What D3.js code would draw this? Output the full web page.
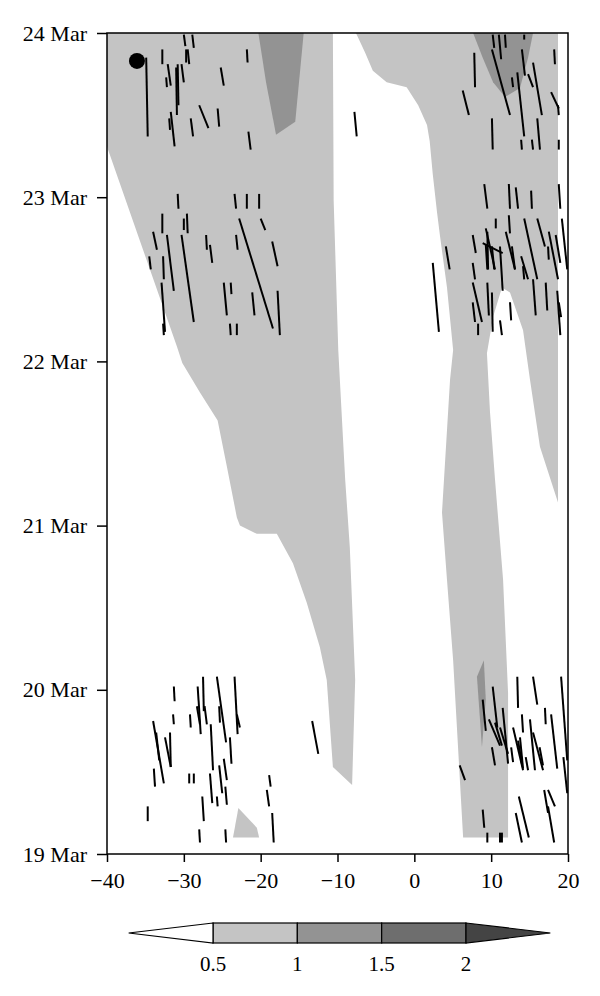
<!DOCTYPE html>
<html>
<head>
<meta charset="utf-8">
<script src="https://cdn.jsdelivr.net/npm/d3@7"></script>
<style>
  body { margin: 0; background: #fff; }
  text { font-family: "Liberation Serif", "DejaVu Serif", serif; }
</style>
</head>
<body>
<script>
// axis ticks
var lonTicks = [-40, -30, -20, -10, 0, 10, 20];
var dayTicks = [19, 20, 21, 22, 23, 24];

// contour levels and fill greys (below 0.5, 0.5-1, 1-1.5, 1.5-2, above 2)
var levels = [0.5, 1, 1.5, 2];
var levelColors = ["#ffffff", "#c4c4c4", "#939393", "#6e6e6e", "#444444"];

// contour regions, [lon, day of March]
var westBand = [[-40,24],[-10.6,24],[-10.5,22.98],[-9.9,22.07],[-9.0,21.28],[-8.4,20.87],[-7.7,20.06],
  [-8.1,19.42],[-10.6,19.53],[-11.4,20.06],[-12.3,20.26],[-14.0,20.53],[-15.8,20.77],[-17.9,20.95],
  [-20.5,20.95],[-22.7,21.0],[-23.1,21.05],[-24.4,21.36],[-25.6,21.64],[-27.9,21.81],[-30.2,21.99],
  [-30.9,22.09],[-39.87,23.29],[-40,23.31]];
var eastBand = [[-7.6,24],[18.7,24],[18.7,21.14],[16.35,21.48],[15.05,21.89],[14.15,22.19],[12.45,22.42],
  [11.4,22.45],[10.25,22.27],[9.45,22.05],[9.85,21.69],[10.5,21.28],[11.55,20.67],[12.2,19.98],[12.2,19.10],
  [6.35,19.10],[5.05,20.18],[4.25,20.67],[3.6,21.08],[4.25,21.58],[4.65,21.89],[5.05,22.07],[4.25,22.45],
  [3.35,22.76],[2.95,22.91],[2.4,23.14],[2.0,23.34],[1.65,23.44],[0.5,23.56],[-1.0,23.67],[-3.6,23.70],
  [-5.4,23.77],[-6.4,23.88]];
var smallPatch = [[-22.9,19.28],[-20.5,19.16],[-20.2,19.10],[-23.6,19.10]];
var darkWest = [[-20.3,24],[-14.4,24],[-15.5,23.46],[-18.0,23.38],[-19.3,23.7]];
var darkEast = [[7.65,24],[15.45,24],[14.8,23.85],[13.75,23.665],[11.8,23.61],[10.25,23.70],[8.9,23.85]];
var darkSouth = [[9.05,20.18],[8.15,20.08],[8.8,19.65],[9.3,19.94]];

var regions = [
  {pts: westBand, level: 1}, {pts: eastBand, level: 1}, {pts: smallPatch, level: 1},
  {pts: darkWest, level: 2}, {pts: darkEast, level: 2}, {pts: darkSouth, level: 2}
];

// sticks: [lon1, day1, lon2, day2]
var sticks = [
  [-34.9,23.85,-34.7,23.37],[-30.0,23.99,-29.8,23.92],[-28.9,23.99,-28.7,23.91],[-32.8,23.90,-32.8,23.81],
  [-29.7,23.90,-29.7,23.82],[-29.5,23.90,-29.3,23.81],[-32.1,23.81,-31.7,23.68],[-32.3,23.73,-32.2,23.67],
  [-31.0,23.79,-30.9,23.50],[-30.8,23.81,-30.7,23.56],[-30.3,23.81,-30.0,23.70],[-31.7,23.52,-31.2,23.31],
  [-31.9,23.48,-31.8,23.41],[-29.1,23.48,-28.8,23.37],[-28.0,23.56,-26.8,23.42],[-25.6,23.54,-25.4,23.43],
  [-25.2,23.79,-24.8,23.68],[-21.8,23.90,-21.7,23.82],[-21.6,23.40,-21.3,23.29],
  [-30.8,23.02,-30.7,22.93],[-23.4,23.02,-23.2,22.93],[-21.8,23.02,-21.8,22.93],[-20.2,23.02,-20.2,22.93],
  [-32.8,22.90,-32.8,22.78],[-30.0,22.87,-30.0,22.80],[-29.6,22.90,-29.5,22.78],[-34.0,22.79,-33.5,22.68],
  [-32.2,22.77,-31.3,22.43],[-30.3,22.77,-28.7,22.24],[-27.1,22.77,-27.0,22.68],[-26.6,22.71,-26.3,22.60],
  [-23.2,22.77,-23.0,22.68],[-22.8,22.87,-18.4,22.20],[-20.0,22.87,-19.4,22.80],[-18.5,22.73,-17.8,22.58],
  [-17.8,22.43,-17.5,22.16],[-21.1,22.42,-20.8,22.28],[-24.8,22.48,-24.4,22.28],[-23.9,22.48,-23.8,22.41],
  [-24.0,22.23,-23.9,22.16],[-23.1,22.23,-23.1,22.16],[-34.5,22.64,-34.3,22.56],[-32.7,22.64,-32.6,22.50],
  [-32.9,22.48,-32.45,22.18],[-32.7,22.23,-32.6,22.16],
  [10.2,23.99,10.4,23.91],[11.0,23.99,11.3,23.84],[11.8,23.99,11.9,23.91],[14.3,23.99,14.3,23.96],
  [7.8,23.88,7.9,23.67],[10.1,23.90,12.45,23.50],[12.7,23.73,12.85,23.67],[13.4,23.76,14.3,23.37],
  [14.0,23.90,14.4,23.74],[15.45,23.82,16.6,23.50],[14.8,23.75,15.45,23.67],[16.0,23.48,16.35,23.29],
  [18.2,23.90,18.3,23.81],[17.8,23.64,18.8,23.54],[18.7,23.56,18.8,23.50],[6.3,23.65,7.1,23.50],
  [10.1,23.48,10.2,23.29],[13.9,23.35,14.0,23.29],[15.3,23.35,15.45,23.29],[18.8,23.35,18.8,23.29],
  [-7.8,23.52,-7.5,23.37],
  [9.1,23.08,9.5,22.93],[12.3,23.08,12.45,22.93],[13.2,23.06,13.5,22.93],[15.2,23.04,15.3,22.93],
  [18.8,23.08,19.0,22.93],[10.6,22.87,10.6,22.81],[12.3,22.89,12.45,22.78],[14.3,22.87,16.0,22.50],
  [16.0,22.87,17.0,22.70],[19.2,22.87,19.9,22.56],[9.3,22.81,10.5,22.56],[9.5,22.79,9.6,22.56],
  [8.9,22.72,11.5,22.66],[9.3,22.71,9.5,22.56],[10.1,22.70,10.4,22.56],[11.15,22.70,11.5,22.43],
  [11.9,22.79,13.1,22.56],[12.7,22.70,13.1,22.56],[13.9,22.64,14.8,22.50],[14.15,22.58,14.3,22.50],
  [15.45,22.50,15.8,22.28],[17.1,22.48,17.3,22.31],[17.5,22.79,18.7,22.50],[18.4,22.77,19.0,22.60],
  [17.4,22.70,17.5,22.62],[18.6,22.43,19.0,22.16],[18.8,22.36,19.1,22.27],[7.6,22.77,8.0,22.66],
  [7.6,22.60,7.9,22.50],[7.6,22.48,8.8,22.24],[7.6,22.36,7.9,22.24],[9.5,22.48,9.7,22.28],
  [10.1,22.42,10.2,22.18],[8.3,22.23,8.3,22.16],[11.15,22.25,11.4,22.16],[12.45,22.36,12.6,22.25],
  [4.1,22.70,4.6,22.56],[2.4,22.60,3.2,22.18],
  [13.4,20.08,13.5,19.89],[15.45,20.08,16.0,19.91],[19.1,20.08,19.9,19.57],[10.2,20.02,10.8,19.77],
  [8.9,19.94,9.3,19.75],[11.5,19.89,12.2,19.55],[17.0,19.89,17.1,19.79],[14.0,19.85,14.15,19.74],
  [17.8,19.85,18.6,19.52],[10.5,19.80,11.4,19.66],[11.15,19.77,12.2,19.61],[12.85,19.77,14.15,19.51],
  [15.05,19.82,15.7,19.51],[15.45,19.74,16.75,19.51],[13.5,19.69,14.0,19.55],[10.1,19.65,10.5,19.54],
  [14.5,19.59,14.8,19.51],[19.4,19.59,19.9,19.37],[5.9,19.54,6.6,19.45],[8.9,19.27,9.1,19.16],
  [9.5,19.13,9.5,19.07],[11.15,19.13,11.15,19.07],[11.4,19.13,11.4,19.07],[13.6,19.35,14.9,19.10],
  [13.2,19.25,14.0,19.07],[16.9,19.39,17.4,19.25],[17.4,19.39,18.3,19.29],[17.4,19.29,18.2,19.07],
  [16.3,19.65,16.75,19.54],[13.75,19.71,14.15,19.52],[12.6,19.65,12.85,19.56],[9.7,19.82,11.15,19.66],
  [-31.3,20.02,-31.2,19.93],[-31.4,19.85,-31.3,19.79],[-34.0,19.81,-32.6,19.43],[-33.6,19.74,-33.2,19.57],
  [-32.45,19.71,-31.7,19.53],[-31.8,19.74,-31.7,19.53],[-33.9,19.52,-33.75,19.41],[-34.7,19.29,-34.7,19.20],
  [-29.2,19.85,-29.1,19.77],[-28.2,20.02,-27.8,19.73],[-27.5,20.08,-27.4,19.87],[-28.3,19.90,-27.9,19.79],
  [-27.3,19.90,-27.0,19.79],[-25.7,20.08,-24.5,19.68],[-23.4,20.08,-23.0,19.73],[-23.1,19.85,-22.7,19.77],
  [-25.4,19.90,-25.3,19.80],[-26.5,19.79,-26.2,19.51],[-24.0,19.71,-23.8,19.55],[-24.8,19.58,-24.4,19.45],
  [-25.4,19.54,-25.0,19.37],[-26.6,19.49,-26.3,19.31],[-24.6,19.41,-24.4,19.30],[-25.7,19.35,-25.6,19.29],
  [-29.3,19.49,-29.3,19.43],[-28.7,19.49,-28.7,19.43],[-27.6,19.35,-27.4,19.20],[-28.0,19.15,-27.9,19.07],
  [-24.6,19.15,-24.5,19.07],[-13.3,19.81,-12.5,19.61],[-18.9,19.48,-18.7,19.41],[-19.2,19.39,-18.9,19.29],
  [-18.5,19.25,-18.3,19.07]
];

// station marker
var station = [-36.1, 23.83];

var width = 600, height = 996;

var svg = d3.select("body").append("svg")
  .attr("width", width)
  .attr("height", height);

var x = d3.scaleLinear().domain([-40, 20]).range([107, 568]);
var y = d3.scaleLinear().domain([19, 24]).range([854, 33]);

var plot = svg.append("g");

plot.append("defs").append("clipPath").attr("id", "clip")
  .append("rect")
  .attr("x", x(-40)).attr("y", y(24))
  .attr("width", x(20) - x(-40)).attr("height", y(19) - y(24));

var area = d3.line().x(d => x(d[0])).y(d => y(d[1]));

plot.append("g").attr("clip-path", "url(#clip)")
  .selectAll("path")
  .data(regions)
  .enter()
  .append("path")
  .attr("d", d => area(d.pts) + "Z")
  .attr("fill", d => levelColors[d.level]);

plot.append("g").attr("clip-path", "url(#clip)")
  .selectAll("line")
  .data(sticks)
  .enter()
  .append("line")
  .attr("x1", d => x(d[0])).attr("y1", d => y(d[1]))
  .attr("x2", d => x(d[2])).attr("y2", d => y(d[3]))
  .attr("stroke", "#000")
  .attr("stroke-width", 2);

plot.append("circle")
  .attr("cx", x(station[0]))
  .attr("cy", y(station[1]))
  .attr("r", 8)
  .attr("fill", "#000");

// frame
plot.append("rect")
  .attr("x", x(-40)).attr("y", y(24))
  .attr("width", x(20) - x(-40)).attr("height", y(19) - y(24))
  .attr("fill", "none")
  .attr("stroke", "#000")
  .attr("stroke-width", 1.5);

var yAxis = svg.append("g")
  .attr("transform", "translate(" + x(-40) + ",0)")
  .call(d3.axisLeft(y).tickValues(dayTicks).tickSize(10).tickPadding(10)
    .tickFormat(d => d + " Mar"));

var xAxis = svg.append("g")
  .attr("transform", "translate(0," + y(19) + ")")
  .call(d3.axisBottom(x).tickValues(lonTicks).tickSize(8).tickPadding(10)
    .tickFormat(d3.format("d")));

[yAxis, xAxis].forEach(function (g) {
  g.select(".domain").remove();
  g.selectAll(".tick line").attr("stroke", "#000").attr("stroke-width", 1.5);
  g.selectAll(".tick text")
    .attr("fill", "#000")
    .style("font-family", '"Liberation Serif", "DejaVu Serif", serif')
    .style("font-size", "22px");
});
xAxis.selectAll(".tick text").text(d => d < 0 ? "\u2212" + Math.abs(d) : d);

// colour bar
var cb = d3.scaleLinear().domain([0.5, 2]).range([213, 466]);
var cbY = 923, cbH = 20;
var bar = svg.append("g");

var boxes = d3.pairs(levels);
bar.selectAll("rect")
  .data(boxes)
  .enter()
  .append("rect")
  .attr("x", d => cb(d[0]))
  .attr("y", cbY)
  .attr("width", d => cb(d[1]) - cb(d[0]))
  .attr("height", cbH)
  .attr("fill", (d, i) => levelColors[i + 1])
  .attr("stroke", "#000")
  .attr("stroke-width", 1.2);

var step = levels[1] - levels[0];
bar.append("path")
  .attr("d", "M" + cb(levels[0]) + "," + cbY + "L" + cb(levels[0] - step) + "," + (cbY + cbH / 2) +
    "L" + cb(levels[0]) + "," + (cbY + cbH) + "Z")
  .attr("fill", levelColors[0]).attr("stroke", "#000").attr("stroke-width", 1.2);
bar.append("path")
  .attr("d", "M" + cb(levels[3]) + "," + cbY + "L" + cb(levels[3] + step) + "," + (cbY + cbH / 2) +
    "L" + cb(levels[3]) + "," + (cbY + cbH) + "Z")
  .attr("fill", levelColors[4]).attr("stroke", "#000").attr("stroke-width", 1.2);

bar.selectAll("text")
  .data(levels)
  .enter()
  .append("text")
  .attr("x", d => cb(d))
  .attr("y", 971)
  .attr("text-anchor", "middle")
  .style("font-size", "21px")
  .text(d => d);
</script>
</body>
</html>
